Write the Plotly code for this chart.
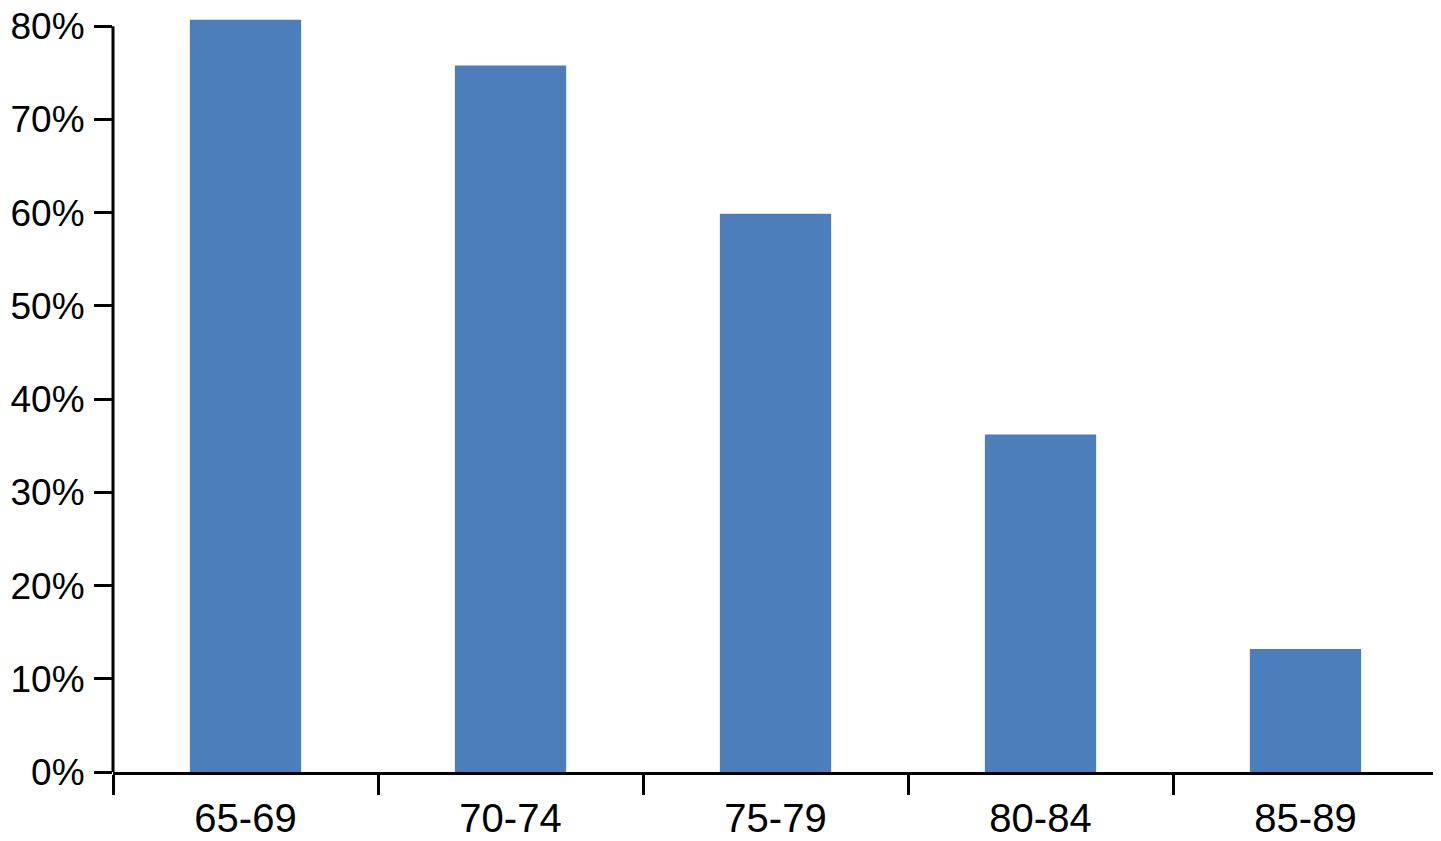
import plotly.graph_objects as go

# age groups and share (%)
age_groups = ["65-69", "70-74", "75-79", "80-84", "85-89"]
share_pct = [80.7, 75.8, 59.9, 36.2, 13.2]
y_ticks = [0, 10, 20, 30, 40, 50, 60, 70, 80]
y_tick_labels = [f"{v}%" for v in y_ticks]

BAR_COLOR = "#4B7EBB"
FONT = dict(family="Liberation Sans, Arial, sans-serif", size=40, color="black")
Y_FONT = dict(family="Liberation Sans, Arial, sans-serif", size=37, color="black")

fig = go.Figure()
fig.add_trace(
    go.Bar(
        x=age_groups,
        y=share_pct,
        marker=dict(color=BAR_COLOR, line=dict(width=0)),
        width=0.42,
    )
)

# y axis line stops at the 80% tick
fig.add_shape(
    type="line",
    xref="paper",
    yref="y",
    x0=0,
    x1=0,
    y0=0,
    y1=80,
    line=dict(color="black", width=3),
)

fig.update_xaxes(
    type="category",
    range=[-0.5, 4.5],
    showline=True,
    linecolor="black",
    linewidth=3,
    ticks="outside",
    tickson="boundaries",
    ticklen=20,
    tickwidth=3,
    tickcolor="black",
    showgrid=False,
    zeroline=False,
    tickfont=FONT,
    automargin=False,
    ticklabelstandoff=9,
)
fig.update_yaxes(
    range=[0, 81],
    tickvals=y_ticks,
    ticktext=y_tick_labels,
    showline=False,
    ticks="outside",
    ticklen=18,
    tickwidth=3,
    tickcolor="black",
    showgrid=False,
    zeroline=False,
    tickfont=Y_FONT,
    automargin=False,
    ticklabelstandoff=2,
    ticklabeloverflow="allow",
)
# the page body adds 8px around the figure, so size it a bit smaller
fig.update_layout(
    template="plotly_white",
    width=1433,
    height=833,
    margin=dict(l=105, r=3, t=9, b=69),
    showlegend=False,
    plot_bgcolor="white",
    paper_bgcolor="white",
    font=FONT,
)
fig.write_html("out.html")
